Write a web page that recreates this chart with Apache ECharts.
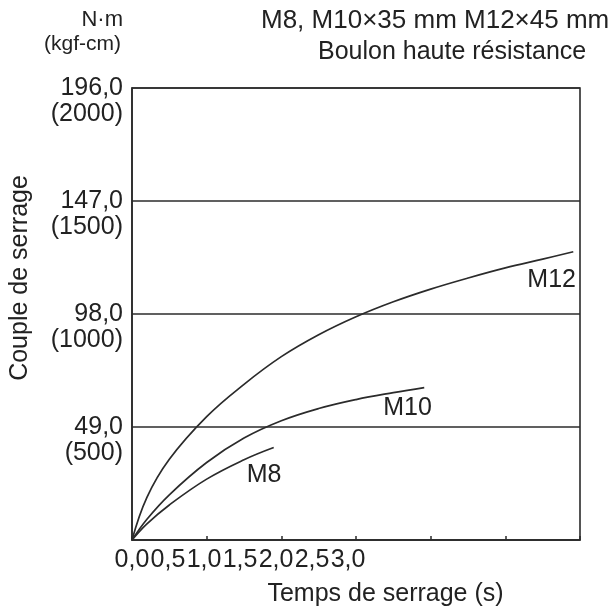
<!DOCTYPE html>
<html>
<head>
<meta charset="utf-8">
<script src="https://cdn.jsdelivr.net/npm/echarts@6/dist/echarts.min.js"></script>
<style>
  html, body { margin: 0; padding: 0; background: #fff; }
  #chart { width: 610px; height: 612px; }
</style>
</head>
<body>
<div id="chart"></div>
<script>
// torque values in N·m, time in s
var yTicks = [49, 98, 147, 196];
var kgfTicks = [500, 1000, 1500, 2000];
var xLabels = ['0,0', '0,5', '1,0', '1,5', '2,0', '2,5', '3,0'];

var m12 = [[0, 0], [0.1, 18.5], [0.25, 35], [0.5, 53.5], [0.75, 67.5], [1.0, 79.5], [1.25, 89],
           [1.5, 96.8], [1.75, 103.3], [2.0, 108.8], [2.25, 113.6], [2.5, 118], [2.75, 121.8],
           [2.955, 125]];
var m10 = [[0, 0], [0.1, 9], [0.25, 19.6], [0.5, 33.6], [0.75, 44.2], [1.0, 51.7], [1.25, 57.0],
           [1.5, 60.9], [1.75, 63.9], [1.957, 66.1]];
var m8 = [[0, 0], [0.1, 7], [0.25, 15.2], [0.5, 26.4], [0.75, 34.8], [0.949, 40.1]];

var names = ['M12', 'M10', 'M8'];
var labelAt = [[2.81, 112.9], [1.845, 57.3], [0.884, 28.0]];

var ink = '#2b2b2b';
var font = 'Liberation Sans';

function curve(i, data) {
	return {
		name: names[i],
		type: 'line',
		data: data,
		smooth: 0.4,
		showSymbol: false,
		lineStyle: { color: ink, width: 1.7 },
		markPoint: {
			symbol: 'circle',
			symbolSize: 0,
			label: {
				show: true,
				position: 'inside',
				formatter: names[i],
				color: '#222',
				fontSize: 25,
				fontFamily: font
			},
			data: [ { coord: labelAt[i] } ]
		}
	};
}

var chart = echarts.init(document.getElementById('chart'));
chart.setOption({
	animation: false,
	title: [
		{ text: 'N·m', right: 487, top: 9, padding: 0,
		  textStyle: { fontSize: 22, fontWeight: 'normal', color: '#222', fontFamily: font } },
		{ text: '(kgf-cm)', right: 489, top: 34, padding: 0,
		  textStyle: { fontSize: 21, fontWeight: 'normal', color: '#222', fontFamily: font } },
		{ text: 'M8, M10×35 mm M12×45 mm', left: 261, top: 8, padding: 0,
		  textStyle: { fontSize: 26, fontWeight: 'normal', color: '#222', fontFamily: font } },
		{ text: 'Boulon haute résistance', left: 318, top: 40, padding: 0,
		  textStyle: { fontSize: 25, fontWeight: 'normal', color: '#222', fontFamily: font } }
	],
	grid: {
		left: 132, right: 30, top: 88, bottom: 68,
		show: true, borderColor: ink, borderWidth: 1.6
	},
	xAxis: [ {
		type: 'value',
		min: 0, max: 3, interval: 0.5,
		name: 'Temps de serrage (s)',
		nameLocation: 'middle',
		nameGap: 42,
		nameTextStyle: { fontSize: 25, color: '#222', fontFamily: font, padding: [0, 0, 0, 59] },
		axisLine: { show: true, lineStyle: { color: ink, width: 1.6 } },
		axisTick: { show: true, inside: true, length: 4, lineStyle: { color: ink, width: 1.5 } },
		axisLabel: { show: false },
		splitLine: { show: false }
	}, {
		// labels only, packed tightly as in the original figure
		type: 'value',
		position: 'bottom',
		min: 0, max: 6.222, interval: 0.5,
		axisLine: { show: false },
		axisTick: { show: false },
		splitLine: { show: false },
		axisLabel: {
			margin: 8,
			fontSize: 25,
			color: '#222',
			fontFamily: font,
			formatter: function (v) {
				var k = Math.round(v / 0.5);
				return k < xLabels.length ? xLabels[k] : '';
			}
		}
	} ],
	yAxis: {
		type: 'value',
		min: 0, max: 196, interval: 49,
		name: 'Couple de serrage',
		nameLocation: 'middle',
		nameRotate: 90,
		nameGap: 99,
		nameTextStyle: { fontSize: 25, color: '#222', fontFamily: font, padding: [0, 0, 0, 72] },
		axisLine: { show: true, lineStyle: { color: ink, width: 1.6 } },
		axisTick: { show: false },
		axisLabel: {
			margin: 9,
			fontSize: 25,
			lineHeight: 26,
			color: '#222',
			fontFamily: font,
			formatter: function (v) {
				var k = yTicks.indexOf(v);
				if (k < 0) return '';
				return ' \n' + v.toFixed(1).replace('.', ',') + '\n(' + kgfTicks[k] + ')';
			}
		},
		splitLine: { show: true, lineStyle: { color: ink, width: 1.6 } }
	},
	series: [ curve(0, m12), curve(1, m10), curve(2, m8) ]
});
</script>
</body>
</html>
